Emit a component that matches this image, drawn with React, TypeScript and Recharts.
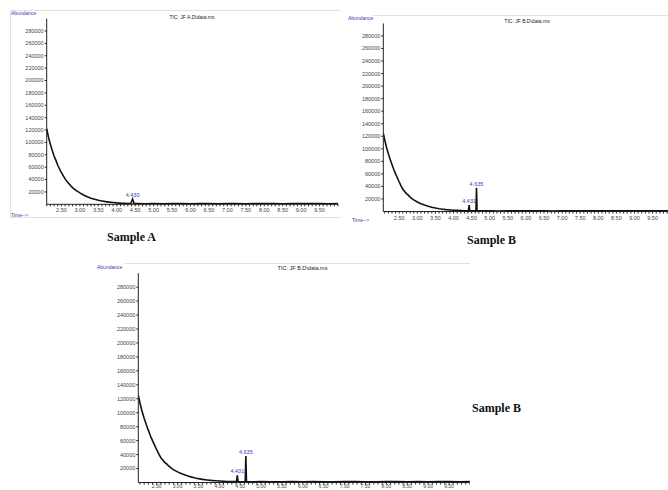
import { LineChart, Line, XAxis, YAxis, ReferenceDot, ReferenceLine } from 'recharts'

// Sample A (TIC: JF A.D\data.ms)
const timesA = [
    2.1, 2.15, 2.2, 2.25, 2.3, 2.35, 2.4, 2.45, 2.5, 2.55, 2.6, 2.65, 2.7, 2.75, 2.8, 2.85, 2.9, 2.95, 3.0,
    3.1, 3.2, 3.3, 3.4, 3.5, 3.6, 3.7, 3.8, 3.9, 4.0, 4.1, 4.2, 4.3, 4.38, 4.43, 4.47, 4.55, 4.75, 5.0,
    5.25, 5.5, 5.75, 6.0, 6.25, 6.5, 6.75, 7.0, 7.25, 7.5, 7.75, 8.0, 8.25, 8.5, 8.75, 9.0, 9.25, 9.5, 9.75, 10.0,
]
const abundanceA = [
    122000, 108000, 97000, 87000, 78000, 71000, 63000, 57000, 51000, 46000, 41000, 37000, 33500, 30000, 27000, 24500, 22000, 20500, 18500,
    15000, 12300, 9800, 8000, 6400, 5300, 4300, 3500, 2900, 2300, 1900, 1700, 1400, 1300, 8500, 1300, 1200, 1000, 1200,
    900, 1100, 1300, 1000, 1200, 1100, 900, 1200, 1300, 1000, 1100, 1200, 1300, 1000, 1200, 1100, 1300, 1200, 1000, 1200,
]
const peakLabelsA = ['4.430']
const peakTimesA = [4.43]
const peakHeightsA = [8500]

// Sample B (TIC: JF B.D\data.ms)
const timesB = [
    2.06, 2.1, 2.15, 2.2, 2.25, 2.3, 2.35, 2.4, 2.45, 2.5, 2.55, 2.6, 2.65, 2.7, 2.75, 2.8, 2.85, 2.9, 3.0,
    3.1, 3.2, 3.3, 3.4, 3.5, 3.6, 3.7, 3.8, 3.9, 4.0, 4.1, 4.2, 4.3, 4.41, 4.431, 4.45, 4.55, 4.62, 4.635, 4.65,
    4.75, 5.0, 5.25, 5.5, 5.75, 6.0, 6.25, 6.5, 6.75, 7.0, 7.25, 7.5, 7.75, 8.0, 8.25, 8.5, 8.75, 9.0, 9.25, 9.5, 9.75, 10.0,
]
const abundanceB = [
    125000, 114000, 102000, 92000, 83000, 75000, 67000, 60000, 53500, 47000, 41000, 35500, 32000, 28500, 26000, 23000, 20500, 18500, 15200,
    12500, 10300, 8400, 6800, 5500, 4500, 3700, 3000, 2500, 2100, 1800, 1500, 1300, 1200, 10200, 1200, 1100, 1100, 38000, 1100,
    1000, 1200, 900, 1100, 1300, 1000, 1200, 1100, 900, 1200, 1300, 1000, 1100, 1200, 1300, 1000, 1200, 1100, 1300, 1200, 1000, 1200,
]
const peakLabelsB = ['4.431', '4.635']
const peakTimesB = [4.431, 4.635]
const peakHeightsB = [10200, 38000]

const abundanceTicks = [20000, 40000, 60000, 80000, 100000, 120000, 140000, 160000, 180000, 200000, 220000, 240000, 260000, 280000]
const timeLabels = [2.5, 3, 3.5, 4, 4.5, 5, 5.5, 6, 6.5, 7, 7.5, 8, 8.5, 9, 9.5]
const minorTicks = Array.from({ length: 80 }, (_, i) => +(2.1 + i * 0.1).toFixed(1))

const dataA = timesA.map((t, i) => ({ t, v: abundanceA[i] }))
const dataB = timesB.map((t, i) => ({ t, v: abundanceB[i] }))

const BLUE = '#3a3ab4'
const SANS = '"Liberation Sans", Arial, sans-serif'

const TimeTick = (props: any) => {
    const { x, y, payload, size } = props
    if (!timeLabels.includes(payload.value)) return <g />
    return (
        <text x={x} y={y} dy="0.71em" textAnchor="middle" fontSize={size} fill="#444" fontFamily={SANS}>
            {payload.value.toFixed(2)}
        </text>
    )
}

type PanelProps = {
    left: number, top: number, width: number, height: number,
    margin: { top: number, right: number, bottom: number, left: number },
    yWidth: number, xHeight: number, xMargin: number, xStart: number, xFont: number,
    data: { t: number, v: number }[],
    peakLabels: string[], peakTimes: number[], peakHeights: number[],
}

const Panel = (p: PanelProps) => (
    <div style={{ position: 'absolute', left: p.left, top: p.top }}>
        <LineChart width={p.width} height={p.height} data={p.data} margin={p.margin}>
            <XAxis
                dataKey="t"
                type="number"
                domain={[p.xStart, 10]}
                ticks={minorTicks}
                interval={0}
                tick={<TimeTick size={p.xFont} />}
                tickSize={2}
                tickMargin={p.xMargin}
                height={p.xHeight}
                stroke="#222"
                allowDataOverflow
            />
            <YAxis
                type="number"
                domain={[0, 300000]}
                ticks={abundanceTicks}
                interval={0}
                width={p.yWidth}
                tickSize={2}
                tickMargin={1}
                stroke="#222"
                tick={{ fontSize: 5.5, fill: '#444', fontFamily: SANS }}
                allowDataOverflow
            />
            {p.peakTimes.map((t, i) => (
                <ReferenceLine
                    key={`m-${i}`}
                    segment={[{ x: t - 0.04, y: 600 }, { x: t + 0.04, y: 600 }]}
                    stroke="#e02828"
                    strokeWidth={1}
                />
            ))}
            <Line
                type="linear"
                dataKey="v"
                stroke="#111"
                strokeWidth={1.6}
                dot={false}
                isAnimationActive={false}
            />
            {p.peakTimes.map((t, i) => (
                <ReferenceDot
                    key={`p-${i}`}
                    x={t}
                    y={p.peakHeights[i]}
                    r={0}
                    stroke="none"
                    label={{ value: p.peakLabels[i], position: 'top', offset: 2, fontSize: 5.5, fill: BLUE, fontFamily: SANS }}
                />
            ))}
        </LineChart>
    </div>
)

const Txt = ({ x, y, size = 5, color = '#222', center = false, children }: any) => (
    <div style={{
        position: 'absolute', left: x, top: y, fontSize: size, color, fontFamily: SANS, lineHeight: 1,
        whiteSpace: 'nowrap', transform: center ? 'translate(-50%, -50%)' : 'translateY(-50%)',
    }}>
        {children}
    </div>
)

const Caption = ({ x, y, children }: any) => (
    <div style={{
        position: 'absolute', left: x, top: y, transform: 'translateY(-50%)', fontFamily: '"Liberation Serif", "Times New Roman", serif',
        fontWeight: 'bold', fontSize: 12, color: '#111', whiteSpace: 'nowrap', lineHeight: 1,
    }}>
        {children}
    </div>
)

export default function App() {
    return (
        <div style={{ position: 'absolute', left: 0, top: 0, width: 668, height: 490, overflow: 'hidden', background: '#fff' }}>
            {/* Sample A frame */}
            <div style={{ position: 'absolute', left: 10, top: 10, width: 330, height: 206, borderTop: '1px solid #d6ebcd', borderLeft: '1px solid #d6ebcd', borderBottom: '1px solid #d6ebcd' }} />
            {/* Sample B frame */}
            <div style={{ position: 'absolute', left: 373, top: 15, width: 295, borderTop: '1px solid #d6ebcd' }} />
            {/* Bottom frame */}
            <div style={{ position: 'absolute', left: 125, top: 263, width: 345, borderTop: '1px solid #d6ebcd' }} />

            <Panel
                left={10} top={10} width={330} height={206}
                margin={{ top: 8.6, right: 2, bottom: 1.7, left: 0 }}
                yWidth={36.7} xHeight={10} xMargin={2} xStart={2.1} xFont={5.5}
                data={dataA} peakLabels={peakLabelsA} peakTimes={peakTimesA} peakHeights={peakHeightsA}
            />
            <Panel
                left={340} top={15} width={332} height={210}
                margin={{ top: 8.4, right: 1.3, bottom: 1.5, left: 0 }}
                yWidth={43.3} xHeight={12} xMargin={2.5} xStart={2.06} xFont={5.5}
                data={dataB} peakLabels={peakLabelsB} peakTimes={peakTimesB} peakHeights={peakHeightsB}
            />
            <Panel
                left={97} top={263} width={373} height={240}
                margin={{ top: 10.2, right: 0.1, bottom: 6.5, left: 0 }}
                yWidth={41.3} xHeight={14} xMargin={0} xStart={2.06} xFont={5}
                data={dataB} peakLabels={peakLabelsB} peakTimes={peakTimesB} peakHeights={peakHeightsB}
            />

            <Txt x={11} y={12.5} color={BLUE}>Abundance</Txt>
            <Txt x={192} y={17} center>TIC: JF A.D\data.ms</Txt>
            <Txt x={11} y={215} color={BLUE}>Time--&gt;</Txt>

            <Txt x={348} y={18.3} color={BLUE}>Abundance</Txt>
            <Txt x={527} y={21.3} center>TIC: JF B.D\data.ms</Txt>
            <Txt x={352} y={220} color={BLUE}>Time--&gt;</Txt>

            <Txt x={97} y={267.3} color={BLUE}>Abundance</Txt>
            <Txt x={302.5} y={269.3} center size={5.5}>TIC: JF B.D\data.ms</Txt>

            <Caption x={107} y={237}>Sample A</Caption>
            <Caption x={467} y={239.5}>Sample B</Caption>
            <Caption x={472} y={408}>Sample B</Caption>
        </div>
    )
}
